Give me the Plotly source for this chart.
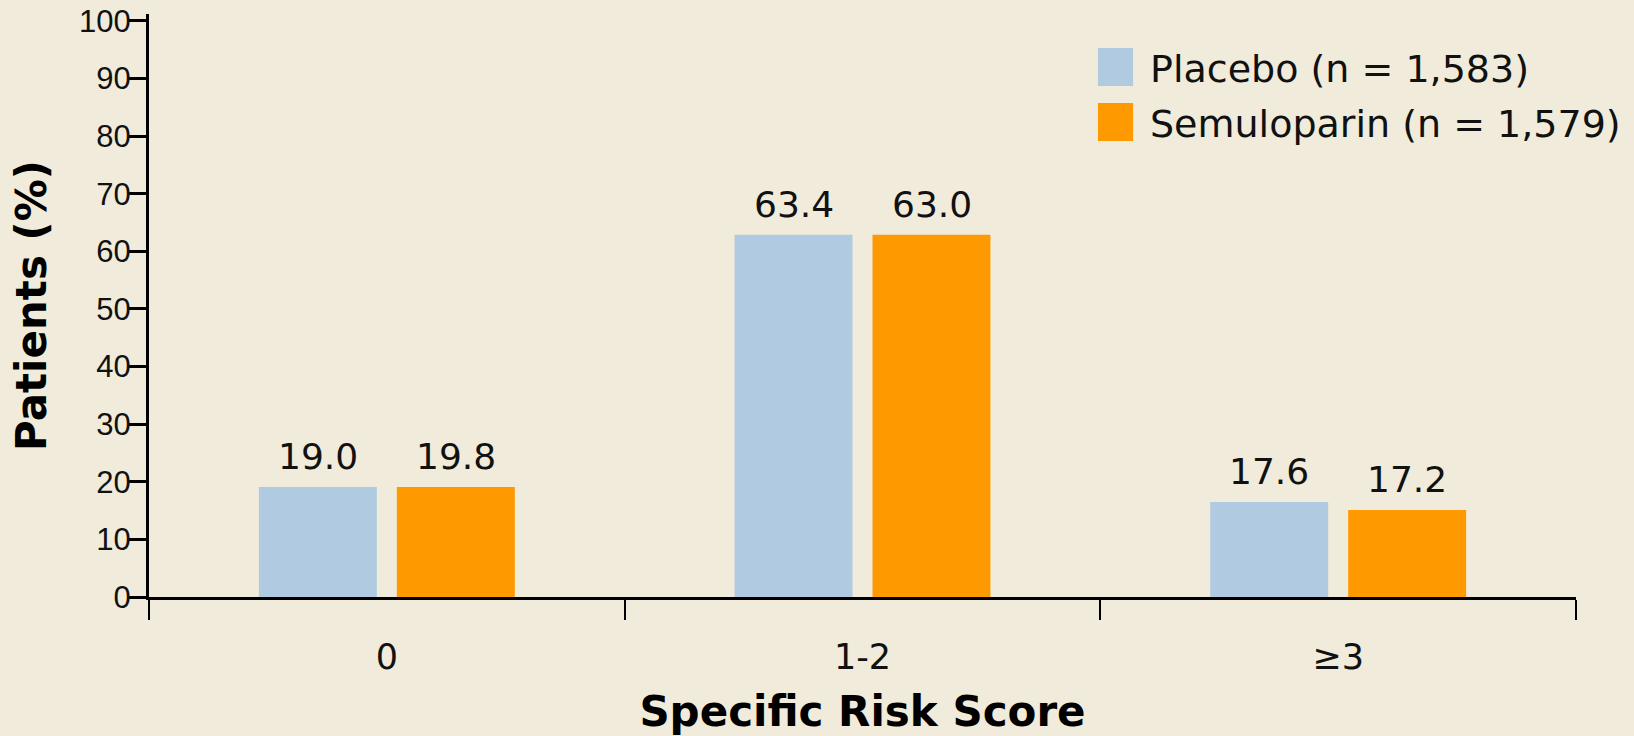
import plotly.graph_objects as go

categories = ["0", "1-2", "≥3"]
placebo_heights = [19.1, 62.9, 16.5]
semuloparin_heights = [19.1, 62.9, 15.1]
placebo_labels = ["19.0", "63.4", "17.6"]
semuloparin_labels = ["19.8", "63.0", "17.2"]
series_names = ["Placebo (n = 1,583)", "Semuloparin (n = 1,579)"]
colors = ["#B0CAE1", "#FF9900"]
yticks = list(range(0, 101, 10))

BG = "#F0EBDA"

fig = go.Figure()
fig.add_trace(go.Bar(x=categories, y=placebo_heights, name=series_names[0],
                     marker=dict(color=colors[0], line=dict(width=0)), showlegend=False))
fig.add_trace(go.Bar(x=categories, y=semuloparin_heights, name=series_names[1],
                     marker=dict(color=colors[1], line=dict(width=0)), showlegend=False))

annotations = []
for heights, labels, shift in [(placebo_heights, placebo_labels, -69),
                                (semuloparin_heights, semuloparin_labels, 69)]:
    for c, h, t in zip(categories, heights, labels):
        annotations.append(dict(x=c, y=h, xref="x", yref="y", text=t, showarrow=False,
                                yanchor="bottom", xanchor="center", xshift=shift, yshift=8,
                                font=dict(family="DejaVu Sans", size=36, color="#111111")))

# legend (manual)
leg_y = [(0.9417, 0.8765), (0.8473, 0.7822)]
shapes = []
for (y1, y0), col, name in zip(leg_y, colors, series_names):
    shapes.append(dict(type="rect", xref="paper", yref="paper", x0=0.665, x1=0.6896,
                       y0=y0, y1=y1, fillcolor=col, line=dict(width=0)))
    annotations.append(dict(x=0.700, y=(y0 + y1) / 2 - 0.003, xref="paper", yref="paper", text=name,
                            showarrow=False, xanchor="left", yanchor="middle",
                            font=dict(family="DejaVu Sans", size=38, color="#111111")))

fig.update_layout(
    width=1634, height=736,
    margin=dict(l=149, r=58, t=14, b=139, pad=0),
    paper_bgcolor=BG, plot_bgcolor=BG,
    barmode="group", bargap=0.42, bargroupgap=0.145,
    annotations=annotations, shapes=shapes,
    xaxis=dict(
        type="category", range=[-0.5, 2.5], tickson="boundaries", automargin=False,
        showline=True, linecolor="#000000", linewidth=3,
        ticks="outside", ticklen=20, tickwidth=2, tickcolor="#000000",
        showgrid=False, zeroline=False, ticklabelstandoff=27,
        tickfont=dict(family="DejaVu Sans", size=35, color="#111111"),
        title=dict(text="<b>Specific Risk Score</b>", standoff=23,
                   font=dict(family="DejaVu Sans", size=42, color="#000000")),
    ),
    yaxis=dict(
        range=[0, 101.2], tickvals=yticks, automargin=False,
        showline=True, linecolor="#000000", linewidth=3,
        ticks="outside", ticklen=17, tickwidth=3, tickcolor="#000000",
        showgrid=False, zeroline=False, ticklabelstandoff=-8,
        tickfont=dict(family="Liberation Sans", size=31, color="#111111"),
        title=dict(text="<b>Patients (%)</b>", standoff=20,
                   font=dict(family="DejaVu Sans", size=42, color="#000000")),
    ),
)

fig.write_html("out.html")
